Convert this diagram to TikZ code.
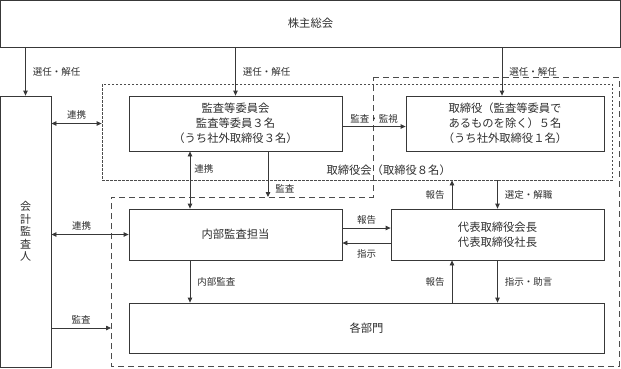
\documentclass[tikz,border=0pt]{standalone}
\usepackage{fontspec}
\setmainfont{Noto Sans CJK JP}
\usetikzlibrary{arrows.meta,calc,positioning}

\tikzset{
  box/.style={draw=black!78, line width=0.8pt, text=black!82, align=center,
    inner sep=0pt, font=\fontsize{11.3}{15}\selectfont},
  lbl/.style={text=black!82, inner sep=1pt, font=\fontsize{9.5}{11}\selectfont},
  arr/.style={draw=black!78, line width=0.8pt, -{Triangle[length=5pt,width=4.5pt]}},
  darr/.style={arr, {Triangle[length=5pt,width=4.5pt]}-{Triangle[length=5pt,width=4.5pt]}},
  dotbox/.style={draw=black!70, line width=0.8pt, dash pattern=on 2.5pt off 1.5pt},
  dashbox/.style={draw=black!70, line width=0.8pt, dash pattern=on 6pt off 4pt},
}

\begin{document}
\begin{tikzpicture}[x=1pt,y=-1pt]
  \useasboundingbox (0,0) rectangle (621,368);
  % General meeting of shareholders
  \node[box, minimum width=620pt, minimum height=47pt] (soukai) at (310.5,23.5) {株主総会};
  % Accounting auditor (vertical text)
  \node[box, minimum width=51pt, minimum height=271pt,
    font=\fontsize{11}{12.5}\selectfont] (kaikei) at (25.5,231.5) {会\\計\\監\\査\\人};
  % Board of directors group (dashed outline)
  \draw[dashbox] (373,77) -- (619,77) -- (619,366) -- (111,366) -- (111,197) -- (373,197) -- cycle;
  \coordinate (trkai-w) at (111,197);
  \node[lbl, anchor=east, font=\fontsize{11.3}{12}\selectfont] (trkai) at (452,170) {取締役会（取締役８名）};
  % Audit committee group (dotted outline)
  \node[dotbox, minimum width=510pt, minimum height=96pt] (kansagrp) at (357,132) {};
  % Boxes
  \node[box, minimum width=213pt, minimum height=55pt] (iinkai) at (235.5,123.5)
    {監査等委員会\\監査等委員３名\\（うち社外取締役３名）};
  \node[box, minimum width=198pt, minimum height=55pt] (torishimari) at (505,123.5)
    {取締役（監査等委員で\\あるものを除く）５名\\（うち社外取締役１名）};
  \node[box, minimum width=213pt, minimum height=51pt] (naibu) at (235.5,234.5) {内部監査担当};
  \node[box, minimum width=213pt, minimum height=51pt] (daihyo) at (497.5,234.5)
    {代表取締役会長\\代表取締役社長};
  \node[box, minimum width=475pt, minimum height=50pt] (bumon) at (366.5,328) {各部門};

  % Appointment / dismissal by the shareholders
  \draw[arr] (soukai.south -| kaikei.north) -- (kaikei.north)
    node[lbl, midway, right=6pt] (l-sen1) {選任・解任};
  \draw[arr] (soukai.south -| iinkai.north) -- (iinkai.north)
    node[lbl, midway, right=6pt] (l-sen2) {選任・解任};
  \draw[arr] ([xshift=-3pt]torishimari.north |- soukai.south) -- ([xshift=-3pt]torishimari.north)
    node[lbl, midway, right=6pt] (l-sen3) {選任・解任};
  % Audit committee links
  \draw[darr] (kaikei.east |- iinkai.west) -- (kansagrp.west |- iinkai.west)
    node[lbl, midway, above=3pt] (l-ren1) {連携};
  \draw[arr] ([yshift=-3pt]iinkai.east) -- ([yshift=-3pt]iinkai.east -| torishimari.west)
    node[lbl, midway, above=2pt] (l-kanshi) {監査・監視};
  \draw[darr] ([xshift=-45.5pt]iinkai.south) -- ([xshift=-45.5pt]naibu.north)
    node[lbl, pos=0.3, right=3pt] (l-ren2) {連携};
  \draw[arr] ([xshift=32.5pt]iinkai.south) -- ([xshift=32.5pt]iinkai.south |- trkai-w)
    node[lbl, pos=0.83, right=6pt] (l-kansa1) {監査};
  % Representative directors
  \draw[arr] ([xshift=-45.5pt]daihyo.north) -- ([xshift=-45.5pt]daihyo.north |- kansagrp.south)
    node[lbl, midway, left=6pt] (l-hou1) {報告};
  \draw[arr] (daihyo.north |- kansagrp.south) -- (daihyo.north)
    node[lbl, midway, right=6pt] (l-sentei) {選定・解職};
  \draw[arr] ([yshift=6.5pt]naibu.east) -- ([yshift=6.5pt]naibu.east -| daihyo.west)
    node[lbl, midway, above=2pt] (l-hou2) {報告};
  \draw[arr] ([yshift=-8.5pt]daihyo.west) -- ([yshift=-8.5pt]daihyo.west -| naibu.east)
    node[lbl, midway, below=5pt] (l-shiji) {指示};
  % Internal audit and departments
  \draw[darr] (kaikei.east |- naibu.west) -- (naibu.west)
    node[lbl, pos=0.39, above=3pt] (l-ren3) {連携};
  \draw[arr] ([xshift=-45.5pt]naibu.south) -- ([xshift=-45.5pt]naibu.south |- bumon.north)
    node[lbl, midway, right=6pt] (l-naibu) {内部監査};
  \draw[arr] ([xshift=-45.5pt]daihyo.south |- bumon.north) -- ([xshift=-45.5pt]daihyo.south)
    node[lbl, midway, left=6pt] (l-hou3) {報告};
  \draw[arr] (daihyo.south) -- (daihyo.south |- bumon.north)
    node[lbl, midway, right=6pt] (l-jogen) {指示・助言};
  \draw[arr] (kaikei.east |- bumon.west) -- (trkai-w |- bumon.west)
    node[lbl, midway, above=3pt] (l-kansa2) {監査};
\end{tikzpicture}
\end{document}
